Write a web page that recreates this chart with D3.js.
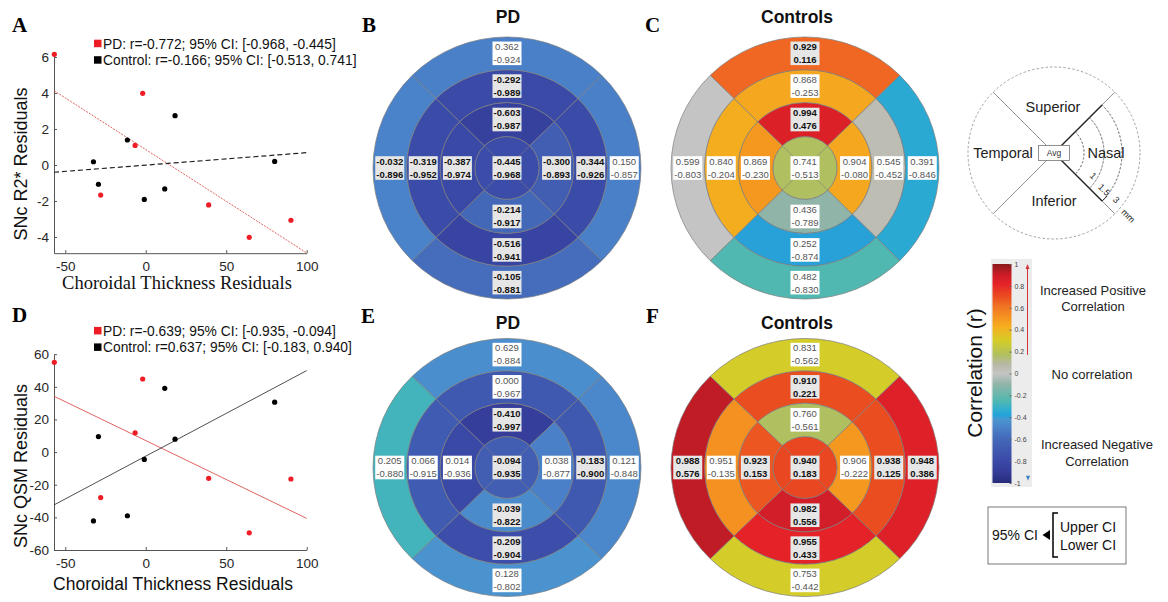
<!DOCTYPE html>
<html>
<head>
<meta charset="utf-8">
<script src="https://cdn.jsdelivr.net/npm/d3@7"></script>
<style>
  body { margin: 0; background: #fff; }
  svg { display: block; }
</style>
</head>
<body>
<svg width="1168" height="602"></svg>
<script>
const sans = "'Liberation Sans', Arial, sans-serif";
const serif = "'Liberation Serif', 'Times New Roman', serif";
const svg = d3.select("svg");

// ---------- scatter data (residuals) ----------
const xPD   = [-56.8, -1.9, -6.6, -28.0, 39.1, 64.3, 90.2];
const xCtrl = [-32.5, -29.4, -11.4, -0.9, 11.8, 18.2, 80.1];
const r2PD   = [6.15, 3.98, 1.09, -1.67, -2.22, -4.02, -3.07];
const r2Ctrl = [0.18, -1.07, 1.39, -1.91, -1.33, 2.74, 0.20];
const qsmPD   = [55.0, 44.8, 11.8, -27.9, -16.1, -49.5, -16.5];
const qsmCtrl = [-42.2, 9.5, -39.0, -4.5, 39.1, 7.9, 30.6];
const xTicks = [-50, 0, 50, 100];
const r2Ticks = [-4, -2, 0, 2, 4, 6];
const qsmTicks = [-60, -40, -20, 0, 20, 40, 60];

// ---------- bullseye data: [Avg, inner S,N,I,T, middle S,N,I,T, outer S,N,I,T] ----------
const hiB = [-0.445, -0.603, -0.300, -0.214, -0.387, -0.292, -0.344, -0.516, -0.319, 0.362, 0.150, -0.105, -0.032];
const loB = [-0.968, -0.987, -0.893, -0.917, -0.974, -0.989, -0.926, -0.941, -0.952, -0.924, -0.857, -0.881, -0.896];
const rB  = [-0.772, -0.86, -0.66, -0.6, -0.8, -0.79, -0.78, -0.83, -0.78, -0.5, -0.5, -0.58, -0.49];

const hiC = [0.741, 0.994, 0.904, 0.436, 0.869, 0.868, 0.545, 0.252, 0.840, 0.929, 0.391, 0.482, 0.599];
const loC = [-0.513, 0.476, -0.080, -0.789, -0.230, -0.253, -0.452, -0.874, -0.204, 0.116, -0.846, -0.830, -0.803];
const rC  = [0.17, 0.85, 0.45, -0.1, 0.5, 0.45, 0.05, -0.385, 0.43, 0.64, -0.35, -0.25, 0.0];

const hiE = [-0.094, -0.410, 0.038, -0.039, 0.014, 0.000, -0.183, -0.209, 0.066, 0.629, 0.121, 0.128, 0.205];
const loE = [-0.935, -0.997, -0.877, -0.822, -0.936, -0.967, -0.900, -0.904, -0.915, -0.884, -0.848, -0.802, -0.880];
const rE  = [-0.66, -0.88, -0.5, -0.46, -0.8, -0.7, -0.7, -0.76, -0.68, -0.45, -0.47, -0.43, -0.28];

const hiF = [0.940, 0.760, 0.906, 0.982, 0.923, 0.910, 0.938, 0.955, 0.951, 0.831, 0.948, 0.753, 0.988];
const loF = [0.183, -0.561, -0.222, 0.556, 0.153, 0.221, 0.125, 0.433, -0.135, -0.562, 0.386, -0.442, 0.576];
const rF  = [0.72, 0.17, 0.5, 0.88, 0.68, 0.7, 0.7, 0.82, 0.52, 0.3, 0.84, 0.3, 0.92];

// colour map of the colour bar
const cmapStops  = [-1, -0.9, -0.8, -0.7, -0.6, -0.5, -0.42, -0.38, -0.33, -0.25, -0.1, 0, 0.08, 0.17, 0.3, 0.42, 0.5, 0.62, 0.7, 0.82, 0.9, 1];
const cmapColors = ["#262a78", "#343c98", "#3a48a6", "#3f58b0", "#4468b8", "#4a80c8", "#4a96d0", "#22a2d8", "#30aed0", "#50b8b0", "#90b4a8",
                    "#c4c4c4", "#b8b8a8", "#b0c060", "#d4cc28", "#f5b020", "#f59820", "#f07024", "#ea4e20", "#e42228", "#cc1c28", "#8a1a1a"];
const cbTicks = [1, 0.8, 0.6, 0.4, 0.2, 0, -0.2, -0.4, -0.6, -0.8, -1];

const cmap = d3.scaleLinear().domain(cmapStops).range(cmapColors).clamp(true);

// ---------- helpers ----------
function fit(xs, ys) {
  const mx = d3.mean(xs), my = d3.mean(ys);
  const b = d3.sum(xs, (x, i) => (x - mx) * (ys[i] - my)) / d3.sum(xs, x => (x - mx) ** 2);
  return x => my + b * (x - mx);
}

function letter(t, x, y) {
  svg.append("text").attr("x", x).attr("y", y).text(t)
    .style("font-family", serif).style("font-weight", "bold").style("font-size", "21px");
}

function scatter(o) {
  const x = d3.scaleLinear().domain([-57, 100]).range([54, 306.7]);
  const y = d3.scaleLinear().domain(o.yDomain).range(o.yRange);
  const g = svg.append("g");

  const ax = g.append("g").attr("transform", `translate(0,${o.yRange[0]})`)
    .call(d3.axisBottom(x).tickValues(xTicks).tickSizeInner(-3).tickSizeOuter(0).tickPadding(8).tickFormat(d => String(d)));
  const ay = g.append("g").attr("transform", "translate(54,0)")
    .call(d3.axisLeft(y).tickValues(o.yTicks).tickSizeInner(-3).tickSizeOuter(0).tickPadding(5).tickFormat(d => String(d)));
  [ax, ay].forEach(a => {
    a.selectAll("path,line").attr("stroke", "#555");
    a.selectAll("text").attr("fill", "#262626").style("font-family", sans).style("font-size", "13.5px");
  });

  // fitted lines
  const fPD = fit(xPD, o.pd), fC = fit(xCtrl, o.ctrl);
  const xd = x.domain();
  g.append("line").attr("x1", x(xd[0])).attr("x2", x(xd[1]))
    .attr("y1", y(fPD(xd[0]))).attr("y2", y(fPD(xd[1])))
    .attr("stroke", "#d9534f").attr("stroke-width", 0.9).attr("stroke-dasharray", o.pdDash);
  g.append("line").attr("x1", x(xd[0])).attr("x2", x(xd[1]))
    .attr("y1", y(fC(xd[0]))).attr("y2", y(fC(xd[1])))
    .attr("stroke", "#222").attr("stroke-width", o.ctrlWidth).attr("stroke-dasharray", o.ctrlDash);

  g.append("g").selectAll("circle").data(xCtrl).join("circle")
    .attr("cx", d => x(d)).attr("cy", (d, i) => y(o.ctrl[i])).attr("r", 2.6).attr("fill", "#000");
  g.append("g").selectAll("circle").data(xPD).join("circle")
    .attr("cx", d => x(d)).attr("cy", (d, i) => y(o.pd[i])).attr("r", 2.6).attr("fill", "#ee1c25");

  // legend
  const lg = g.append("g").style("font-family", sans).style("font-size", "13.8px").attr("fill", "#111");
  o.legend.forEach((t, i) => {
    const yy = o.legendY + i * 16.5;
    lg.append("rect").attr("x", 94).attr("y", yy - 3.8).attr("width", 7.5).attr("height", 7.5)
      .attr("fill", i === 0 ? "#ee1c25" : "#000");
    lg.append("text").attr("x", 103).attr("y", yy + 5).text(t);
  });

  g.append("text").attr("transform", `translate(${o.ylabX},${o.ylabY}) rotate(-90)`)
    .attr("text-anchor", "middle").text(o.ylabel)
    .style("font-family", sans).style("font-size", "18px").attr("fill", "#111");
  g.append("text").attr("x", o.xlabX).attr("y", o.xlabY).attr("text-anchor", "middle").text("Choroidal Thickness Residuals")
    .style("font-family", o.xlabFont).style("font-size", o.xlabSize).attr("fill", "#111");
}

scatter({
  pd: r2PD, ctrl: r2Ctrl, yDomain: [-4.9, 6.2], yRange: [253.2, 53.4], yTicks: r2Ticks,
  pdDash: "2,1.2", ctrlDash: "5,3", ctrlWidth: 1.2,
  legend: ["PD: r=-0.772; 95% CI: [-0.968, -0.445]", "Control: r=-0.166; 95% CI: [-0.513, 0.741]"],
  legendY: 43.5, ylabel: "SNc R2* Residuals", ylabX: 27, ylabY: 164,
  xlabX: 177, xlabY: 289, xlabFont: serif, xlabSize: "18.5px"
});
scatter({
  pd: qsmPD, ctrl: qsmCtrl, yDomain: [-60, 60], yRange: [550, 354.2], yTicks: qsmTicks,
  pdDash: null, ctrlDash: null, ctrlWidth: 0.8,
  legend: ["PD: r=-0.639; 95% CI: [-0.935, -0.094]", "Control: r=0.637; 95% CI: [-0.183, 0.940]"],
  legendY: 330.7, ylabel: "SNc QSM Residuals", ylabX: 27, ylabY: 466,
  xlabX: 173, xlabY: 590, xlabFont: sans, xlabSize: "17.5px"
});

// ---------- bullseye panels ----------
const fr = [0, 0.24, 0.5, 0.75, 1];
const quadAng = [0, Math.PI / 2, Math.PI, 1.5 * Math.PI]; // S, N, I, T
const arc = d3.arc();

function eye(o) {
  const R = 134;
  const segs = o.r.map((v, i) => {
    const ring = i === 0 ? 0 : Math.floor((i - 1) / 4) + 1;
    const q = i === 0 ? 0 : (i - 1) % 4;
    return { ring, q, r: v, hi: o.hi[i], lo: o.lo[i] };
  });
  const g = svg.append("g").attr("transform", `translate(${o.cx},${o.cy})`);
  const shapes = g.append("g").attr("transform", `scale(1,${o.ky})`);

  shapes.selectAll("path").data(segs).join("path")
    .attr("d", d => arc({
      innerRadius: fr[d.ring] * R, outerRadius: fr[d.ring + 1] * R,
      startAngle: d.ring === 0 ? 0 : quadAng[d.q] - Math.PI / 4,
      endAngle: d.ring === 0 ? 2 * Math.PI : quadAng[d.q] + Math.PI / 4
    }))
    .attr("fill", d => cmap(d.r))
    .attr("stroke", "#7d7d7d").attr("stroke-width", 0.7).attr("vector-effect", "non-scaling-stroke");

  shapes.selectAll("line").data(quadAng).join("line")
    .attr("x1", 0).attr("y1", 0)
    .attr("x2", a => fr[1] * R * Math.sin(a + Math.PI / 4))
    .attr("y2", a => -fr[1] * R * Math.cos(a + Math.PI / 4))
    .attr("stroke", "#7d7d7d").attr("stroke-width", 0.6).attr("vector-effect", "non-scaling-stroke");

  const lab = g.selectAll("g.lab").data(segs).join("g").attr("class", "lab")
    .attr("transform", d => {
      const m = d.ring === 0 ? 0 : (fr[d.ring] + fr[d.ring + 1]) / 2 * R;
      const a = quadAng[d.q];
      return `translate(${m * Math.sin(a)},${-m * Math.cos(a) * o.ky})`;
    });
  const sig = d => (d.hi > 0) === (d.lo > 0) && d.hi !== 0 && d.lo !== 0;
  lab.append("rect").attr("x", -14.5).attr("y", -11.8).attr("width", 29).attr("height", 23.6)
    .attr("fill", d => sig(d) ? "#e6e6e6" : "#fff");
  lab.selectAll("text").data(d => [[d.hi, sig(d), -3.1], [d.lo, sig(d), 9.9]]).join("text")
    .attr("y", t => t[2]).attr("text-anchor", "middle").text(t => t[0].toFixed(3))
    .style("font-family", sans).style("font-size", "9.5px")
    .style("font-weight", t => t[1] ? "bold" : "normal")
    .attr("fill", t => t[1] ? "#111" : "#555");

  svg.append("text").attr("x", o.tx).attr("y", o.ty).attr("text-anchor", "middle").text(o.title)
    .style("font-family", sans).style("font-weight", "bold").style("font-size", "17.5px").attr("fill", "#111");
}

eye({ cx: 507, cy: 168, ky: 0.978, r: rB, hi: hiB, lo: loB, title: "PD", tx: 508, ty: 23 });
eye({ cx: 805, cy: 168, ky: 0.978, r: rC, hi: hiC, lo: loC, title: "Controls", tx: 797, ty: 23 });
eye({ cx: 507, cy: 467.5, ky: 0.963, r: rE, hi: hiE, lo: loE, title: "PD", tx: 508, ty: 329 });
eye({ cx: 805, cy: 467.5, ky: 0.963, r: rF, hi: hiF, lo: loF, title: "Controls", tx: 797, ty: 329 });

letter("A", 12, 32); letter("B", 362, 32); letter("C", 645, 32);
letter("D", 12, 322); letter("E", 361, 323); letter("F", 646, 323);

// ---------- region diagram ----------
const dg = svg.append("g").attr("transform", "translate(1054,153)");
const dR = 86;
dg.append("circle").attr("r", dR).attr("fill", "none").attr("stroke", "#8a8a8a")
  .attr("stroke-width", 0.8).attr("stroke-dasharray", "2.5,2");
quadAng.forEach((a, i) => {
  const d = a + Math.PI / 4, sx = Math.sin(d), sy = -Math.cos(d);
  dg.append("line").attr("x1", 0).attr("y1", 0).attr("x2", dR * sx).attr("y2", dR * sy)
    .attr("stroke", "#888").attr("stroke-width", 0.9);
  if (i === 0 || i === 1) {
    dg.append("line").attr("x1", 0).attr("y1", 0).attr("x2", 68 * sx).attr("y2", 68 * sy)
      .attr("stroke", "#222").attr("stroke-width", 1.4);
  }
});
[30, 50, 68].forEach(rr => {
  dg.append("path").attr("d", arc({ innerRadius: rr, outerRadius: rr, startAngle: Math.PI / 4, endAngle: 3 * Math.PI / 4 }))
    .attr("fill", "none").attr("stroke", "#777").attr("stroke-width", 0.8).attr("stroke-dasharray", "2,2");
});
dg.append("line").attr("x1", 68 * Math.SQRT1_2).attr("y1", 68 * Math.SQRT1_2)
  .attr("x2", 68 * Math.SQRT1_2 + 5).attr("y2", 68 * Math.SQRT1_2 - 5).attr("stroke", "#222").attr("stroke-width", 1);
dg.append("rect").attr("x", -15.5).attr("y", -7.5).attr("width", 31).attr("height", 15)
  .attr("fill", "#fff").attr("stroke", "#777").attr("stroke-width", 0.8);
dg.append("text").attr("y", 3).attr("text-anchor", "middle").text("Avg")
  .style("font-family", sans).style("font-size", "8.5px").attr("fill", "#333");
[["Superior", -1, -46], ["Temporal", -51, 0], ["Nasal", 52, 0], ["Inferior", 0, 48]].forEach(t => {
  dg.append("text").attr("x", t[1]).attr("y", t[2] + 5).attr("text-anchor", "middle").text(t[0])
    .style("font-family", sans).style("font-size", "14.5px").attr("fill", "#222");
});
[["1", 37, 25], ["1.5", 48, 39], ["3", 60, 49], ["mm", 72, 65]].forEach(t => {
  dg.append("text").attr("transform", `translate(${t[1]},${t[2]}) rotate(45)`).attr("text-anchor", "middle")
    .text(t[0]).style("font-family", sans).style("font-size", "9px").attr("fill", "#222");
});

// ---------- colour bar ----------
const cy = d3.scaleLinear().domain([-1, 1]).range([483, 264]);
const defs = svg.append("defs");
const grad = defs.append("linearGradient").attr("id", "cb").attr("x1", 0).attr("x2", 0).attr("y1", 1).attr("y2", 0);
grad.selectAll("stop").data(cmapStops).join("stop")
  .attr("offset", d => (d + 1) / 2).attr("stop-color", (d, i) => cmapColors[i]);
svg.append("rect").attr("x", 991).attr("y", 259).attr("width", 41).attr("height", 228).attr("fill", "#ececec");
svg.append("rect").attr("x", 992.5).attr("y", cy(1)).attr("width", 19).attr("height", cy(-1) - cy(1)).attr("fill", "url(#cb)");
const cba = svg.append("g").attr("transform", "translate(1011.5,0)")
  .call(d3.axisRight(cy).tickValues(cbTicks).tickSizeInner(-2).tickSizeOuter(0).tickPadding(3)
    .tickFormat(d => String(+d.toFixed(1))));
cba.select(".domain").remove();
cba.selectAll("line").attr("stroke", "#666");
cba.selectAll("text").attr("fill", "#444").style("font-family", sans).style("font-size", "7px");
svg.append("line").attr("x1", 1027.5).attr("x2", 1027.5).attr("y1", cy(0.17)).attr("y2", cy(0.98))
  .attr("stroke", "#d0343a").attr("stroke-width", 1);
svg.append("path").attr("d", `M1027.5,${cy(1)}l-2,5h4z`).attr("fill", "#d0343a");
svg.append("path").attr("d", `M1028,${cy(-0.98)}l-2,-5h4z`).attr("fill", "#3a7fc0");

svg.append("text").attr("transform", "translate(982,373) rotate(-90)").attr("text-anchor", "middle")
  .text("Correlation (r)").style("font-family", sans).style("font-size", "21px").attr("fill", "#111");
[["Increased Positive", 1093, 295], ["Correlation", 1093, 311], ["No correlation", 1092, 379],
 ["Increased Negative", 1097, 449], ["Correlation", 1097, 466]].forEach(t => {
  svg.append("text").attr("x", t[1]).attr("y", t[2]).attr("text-anchor", "middle").text(t[0])
    .style("font-family", sans).style("font-size", "13px").attr("fill", "#222");
});

// ---------- CI legend ----------
const ci = svg.append("g").style("font-family", sans).style("font-size", "14px").attr("fill", "#111");
ci.append("rect").attr("x", 988).attr("y", 507).attr("width", 138).attr("height", 57)
  .attr("fill", "none").attr("stroke", "#555").attr("stroke-width", 0.8);
ci.append("text").attr("x", 992).attr("y", 540).text("95% CI");
ci.append("path").attr("d", "M1042.5,535L1050,530V540Z").attr("fill", "#000");
ci.append("path").attr("d", "M1058,513H1053V557H1058").attr("fill", "none").attr("stroke", "#000").attr("stroke-width", 1.5);
ci.append("text").attr("x", 1060).attr("y", 532).text("Upper CI");
ci.append("text").attr("x", 1060).attr("y", 550).text("Lower CI");
</script>
</body>
</html>
